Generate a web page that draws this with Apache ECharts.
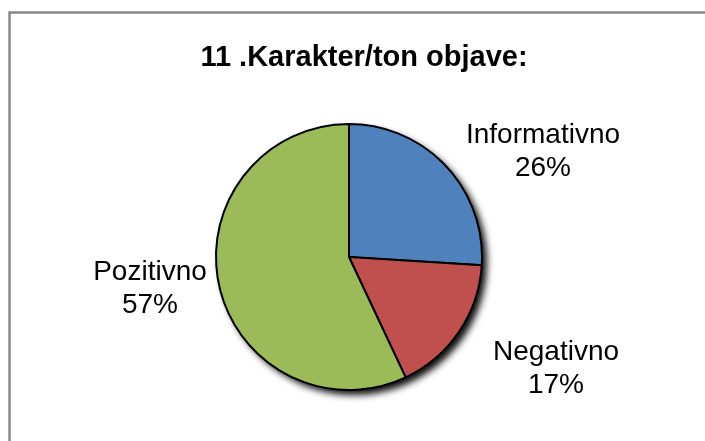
<!DOCTYPE html>
<html>
<head>
<meta charset="utf-8">
<script src="https://cdn.jsdelivr.net/npm/echarts@6/dist/echarts.min.js"></script>
<style>
  html, body { margin: 0; padding: 0; background: #fff; }
  #chart { width: 705px; height: 441px; }
</style>
</head>
<body>
<div id="chart"></div>
<script>
// data
const categories = ['Informativno', 'Negativno', 'Pozitivno']
const shares = [26, 17, 57]
const colors = ['#4F81BD', '#C0504D', '#9BBB59']

// where the label blocks sit (centre of each block)
const labelSpots = [[543, 152], [556, 369], [150, 289]]

const chart = echarts.init(document.getElementById('chart'))

const seriesData = categories.map((name, i) => {
  return { name: name, value: shares[i], itemStyle: { color: colors[i] } }
})

const option = {
  animation: false,
  backgroundColor: '#fff',
  title: {
    text: '11 .Karakter/ton objave:',
    left: 359,
    top: 38,
    textAlign: 'center',
    textStyle: {
      fontFamily: 'Liberation Sans, Arial, sans-serif',
      fontWeight: 'bold',
      fontSize: 29,
      color: '#000'
    }
  },
  graphic: [{
    type: 'rect',
    shape: { x: 9.5, y: 12.5, width: 900, height: 600 },
    style: { fill: 'none', stroke: '#888', lineWidth: 2.5 },
    silent: true
  }],
  series: [
    {
      // backing disc that carries the drop shadow
      type: 'pie',
      silent: true,
      center: [349, 257],
      radius: 133,
      z: 1,
      label: { show: false },
      labelLine: { show: false },
      data: [{
        value: 100,
        itemStyle: {
          color: '#000',
          shadowBlur: 7,
          shadowOffsetX: 5,
          shadowOffsetY: 5,
          shadowColor: 'rgba(0,0,0,0.95)'
        }
      }]
    },
    {
      type: 'pie',
      center: [349, 257],
      radius: 133,
      startAngle: 90,
      clockwise: true,
      z: 2,
      itemStyle: { borderColor: '#000', borderWidth: 2 },
      label: {
        show: true,
        position: 'outside',
        formatter: '{b}\n{d}%',
        fontFamily: 'Liberation Sans, Arial, sans-serif',
        fontSize: 28,
        lineHeight: 33,
        color: '#000'
      },
      labelLine: { show: false },
      labelLayout: (params) => {
        const spot = labelSpots[params.dataIndex]
        return { x: spot[0], y: spot[1], align: 'center', verticalAlign: 'middle' }
      },
      emphasis: { disabled: true },
      data: seriesData
    }
  ]
}

chart.setOption(option)
</script>
</body>
</html>
